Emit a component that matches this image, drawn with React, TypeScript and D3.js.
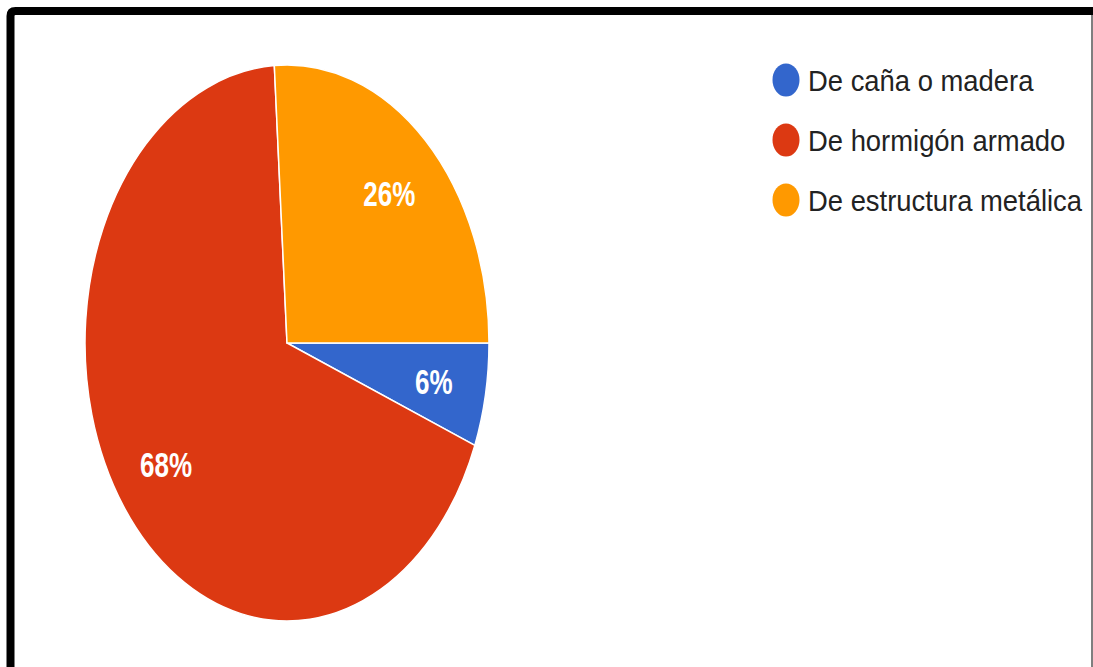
import React from "react";
import * as d3 from "d3";

const categories = ["De caña o madera", "De hormigón armado", "De estructura metálica"];
const values = [6, 68, 26];
const colors = ["#3366cc", "#dc3912", "#ff9900"];

const W = 1093;
const H = 667;
const cx = 287;
const cy = 343;
const R = 202;
const stretch = 278 / 202;

export default function App() {
  const pie = d3
    .pie<number>()
    .sort(null)
    .value((d) => d)
    .startAngle(Math.PI / 2)
    .endAngle(Math.PI / 2 + 2 * Math.PI);
  const arcs = pie(values);
  const arc = d3.arc<d3.PieArcDatum<number>>().innerRadius(0).outerRadius(R);
  const labelArc = d3
    .arc<d3.PieArcDatum<number>>()
    .innerRadius(R * 0.74)
    .outerRadius(R * 0.74);

  return (
    <svg
      width={W}
      height={H}
      style={{ position: "absolute", left: 0, top: 0, background: "#fff" }}
      fontFamily="'Liberation Sans', Arial, sans-serif"
    >
      <rect x={0} y={0} width={W} height={H} fill="#fff" />
      <g transform={`translate(${cx},${cy}) scale(1,${stretch})`}>
        {arcs.map((a, i) => (
          <path
            key={i}
            d={arc(a) || ""}
            fill={colors[i]}
            stroke="#fff"
            strokeWidth={1.5}
            vectorEffect="non-scaling-stroke"
          />
        ))}
        {arcs.map((a, i) => {
          const [x, y] = labelArc.centroid(a);
          return (
            <text
              key={"l" + i}
              x={x}
              y={y}
              dy="0.36em"
              textAnchor="middle"
              fill="#fff"
              fontSize={26}
              fontWeight="bold"
            >
              {`${values[i]}%`}
            </text>
          );
        })}
      </g>
      <g>
        {categories.map((c, i) => (
          <g key={c} transform={`translate(0,${80 + i * 60})`}>
            <ellipse cx={786} cy={0} rx={13.5} ry={16.5} fill={colors[i]} />
            <text
              transform={`translate(808,10.5) scale(1,1.1)`}
              fontSize={27.4}
              fill="#222"
            >
              {c}
            </text>
          </g>
        ))}
      </g>
      <path
        d="M10.5,680 V16 Q10.5,11 15.5,11 H1100"
        fill="none"
        stroke="#000"
        strokeWidth={8}
      />
      <line x1={1092} y1={15} x2={1092} y2={H} stroke="#555" strokeWidth={1.5} />
    </svg>
  );
}
